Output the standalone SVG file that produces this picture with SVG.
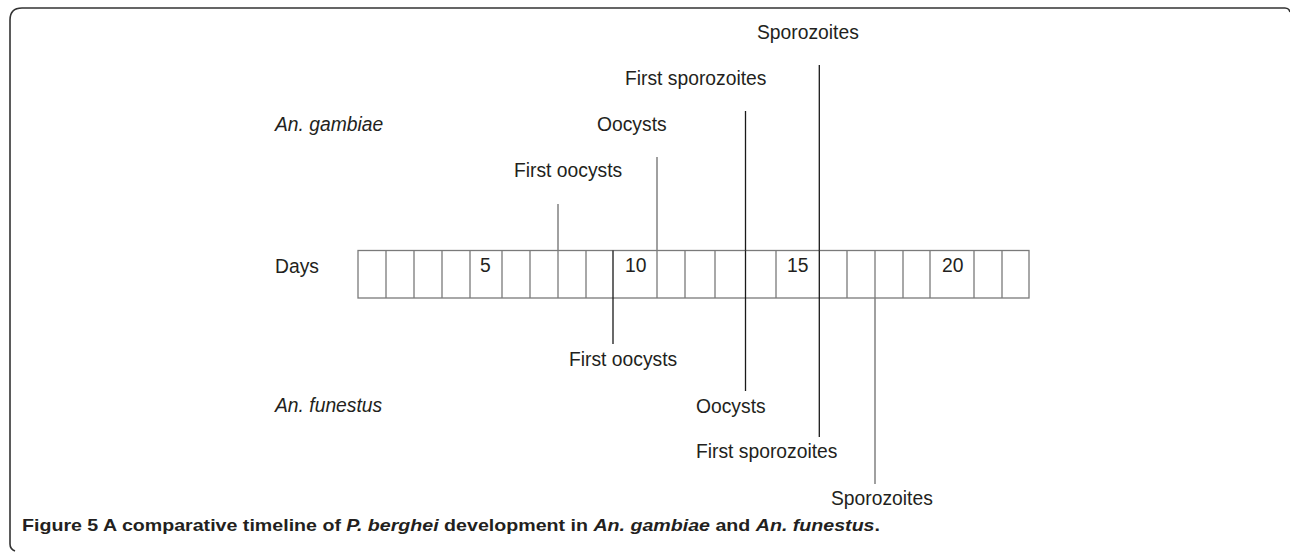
<svg xmlns="http://www.w3.org/2000/svg" width="1290" height="553" viewBox="0 0 1290 553">
<style>
.lbl{font-family:"Liberation Sans",Arial,sans-serif;font-size:19.3px;fill:#231f20}
.it{font-style:italic}
.cap{font-family:"Liberation Sans",Arial,sans-serif;font-size:17px;font-weight:bold;fill:#231f20}
.grid{stroke:#7a7a7a;stroke-width:1.3;fill:none}
.dk{stroke:#1a1a1a;stroke-width:1.3;fill:none}
.gr{stroke:#808080;stroke-width:1.5;fill:none}
</style>
<rect width="1290" height="553" fill="#fff"/>
<path d="M15,551 Q10,549 10,544 L10,20 Q10,8 22,8 L1285,8 Q1289,8 1290,12" fill="none" stroke="#333" stroke-width="1.6"/>
<g id="timeline">
<rect class="grid" x="358" y="250.5" width="671" height="47.5"/>
<path class="grid" d="M386,250.5V298M414,250.5V298M442,250.5V298M470,250.5V298M502,250.5V298M530,250.5V298M558,250.5V298M586,250.5V298M657,250.5V298M685,250.5V298M715,250.5V298M776,250.5V298M847,250.5V298M875,250.5V298M903,250.5V298M930,250.5V298M974,250.5V298M1002,250.5V298"/>
<path class="dk" d="M613,250.5V298M745.5,250.5V298M819.3,250.5V298"/>
<text class="lbl" x="275" y="273">Days</text>
<text class="lbl" x="480" y="272">5</text>
<text class="lbl" x="625" y="272">10</text>
<text class="lbl" x="787" y="272">15</text>
<text class="lbl" x="942" y="272">20</text>
</g>
<g id="species">
<text class="lbl it" x="275" y="131">An. gambiae</text>
<text class="lbl it" x="275" y="412">An. funestus</text>
</g>
<g id="connectors">
<line class="gr" x1="558" y1="204" x2="558" y2="250.5"/>
<line class="gr" x1="657" y1="157" x2="657" y2="250.5"/>
<line class="dk" x1="745.5" y1="111" x2="745.5" y2="250.5"/>
<line class="dk" x1="819.3" y1="65" x2="819.3" y2="250.5"/>
<line class="dk" x1="613" y1="298" x2="613" y2="344"/>
<line class="dk" x1="745.5" y1="298" x2="745.5" y2="391"/>
<line class="dk" x1="819.3" y1="298" x2="819.3" y2="437"/>
<line class="gr" x1="875" y1="298" x2="875" y2="484"/>
</g>
<g id="gambiae-events">
<text class="lbl" x="514" y="177">First oocysts</text>
<text class="lbl" x="597" y="131">Oocysts</text>
<text class="lbl" x="625" y="85">First sporozoites</text>
<text class="lbl" x="757" y="39">Sporozoites</text>
</g>
<g id="funestus-events">
<text class="lbl" x="569" y="366">First oocysts</text>
<text class="lbl" x="696" y="413">Oocysts</text>
<text class="lbl" x="696" y="458">First sporozoites</text>
<text class="lbl" x="831" y="505">Sporozoites</text>
</g>
<text class="cap" x="22" y="531" textLength="858" lengthAdjust="spacingAndGlyphs">Figure 5 A comparative timeline of <tspan class="it">P. berghei</tspan> development in <tspan class="it">An. gambiae</tspan> and <tspan class="it">An. funestus</tspan>.</text>
</svg>
